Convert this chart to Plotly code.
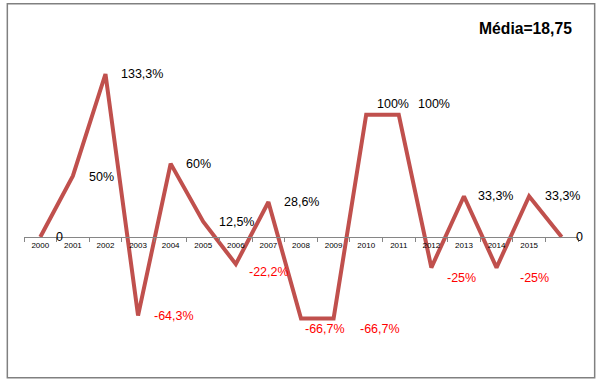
import plotly.graph_objects as go

# ---- data ----
categories = ["2000", "2001", "2002", "2003", "2004", "2005", "2006", "2007",
              "2008", "2009", "2010", "2011", "2012", "2013", "2014", "2015", " "]
values = [0, 50, 133.3, -64.3, 60, 12.5, -22.2, 28.6,
          -66.7, -66.7, 100, 100, -25, 33.3, -25, 33.3, 0]
mean_label = "Média=18,75"

# ---- label placement (style) ----
label_dx = [14, 14, 14, 14, 13, 14, 11, 14, 2, 24, 9, 17, 14, 12, 21, 14, 12]
label_dy = [0, -1, 0, 0, 0, 0, -8, 0, -10, -10, 11, 11, -10, 0, -10, 0, 0]


def fmt(v):
    if v == 0:
        return "0"
    return f"{v:g}".replace(".", ",") + "%"


FONT = "Liberation Sans, Arial, sans-serif"
YMIN, YMAX = -99.8, 160.3

fig = go.Figure()
fig.add_trace(go.Scatter(
    x=categories, y=values, mode="lines",
    line=dict(color="#C0504D", width=4),
    hoverinfo="skip", showlegend=False,
))

# category axis: annotations positioned by category index
for i, v in enumerate(values):
    fig.add_annotation(
        x=i, y=v, xref="x", yref="y", text=fmt(v), showarrow=False,
        xanchor="left", yanchor="middle",
        xshift=label_dx[i], yshift=label_dy[i],
        font=dict(family=FONT, size=12.5, color="#FF0000" if v < 0 else "#000000"),
    )

fig.add_annotation(
    x=0.906, y=1.038, xref="paper", yref="paper", text="<b>" + mean_label + "</b>",
    showarrow=False, xanchor="center", yanchor="middle",
    font=dict(family=FONT, size=15.7, color="#000000"),
)

# outer frame
fig.add_shape(type="rect", xref="paper", yref="paper",
              x0=-0.0301, x1=1.0301, y0=-0.0588, y1=1.117,
              line=dict(color="#808080", width=1.5), fillcolor="rgba(0,0,0,0)")

zero_pos = (0 - YMIN) / (YMAX - YMIN)

fig.update_layout(
    width=601, height=386,
    margin=dict(l=24, r=23, t=41, b=27, autoexpand=False),
    paper_bgcolor="white", plot_bgcolor="white",
    font=dict(family=FONT),
    xaxis=dict(
        type="category", categoryorder="array", categoryarray=categories,
        range=[-0.5, 16.5], anchor="free", position=zero_pos,
        showline=True, linecolor="#868686", linewidth=1,
        ticks="outside", tickson="boundaries", ticklen=4, tickcolor="#868686",
        tickfont=dict(family=FONT, size=8, color="#000000"),
        showgrid=False, zeroline=False, fixedrange=True,
    ),
    yaxis=dict(range=[YMIN, YMAX], visible=False, showgrid=False,
               zeroline=False, fixedrange=True),
)

fig.write_html(
    "out.html",
    config={"displayModeBar": False},
    post_script="document.body.style.margin='0';document.body.style.overflow='hidden';",
)
